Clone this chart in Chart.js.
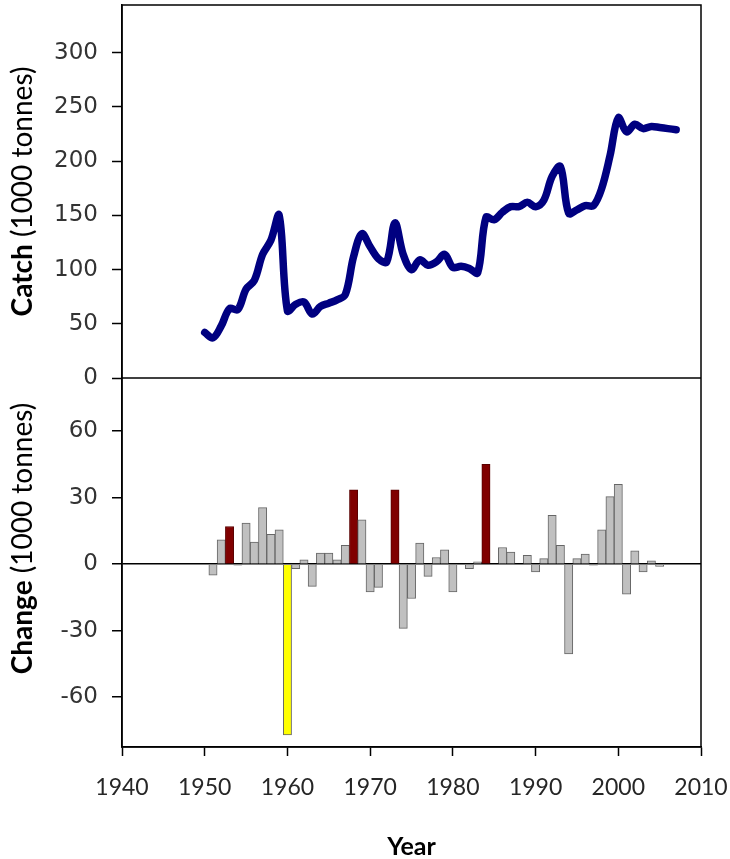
<!DOCTYPE html>
<html>
<head>
<meta charset="utf-8">
<title>Catch and annual change</title>
<script src="https://cdn.jsdelivr.net/npm/chart.js@4.4.0/dist/chart.umd.min.js"></script>
<style>
  html, body { margin: 0; padding: 0; background: #fff; }
  #wrap { position: relative; width: 730px; height: 859px; }
</style>
</head>
<body>
<div id="wrap"><canvas id="catch-chart" width="730" height="859"></canvas></div>
<script>
// Catch (1000 tonnes) per year
const years = [1950, 1951, 1952, 1953, 1954, 1955, 1956, 1957, 1958, 1959,
  1960, 1961, 1962, 1963, 1964, 1965, 1966, 1967, 1968, 1969,
  1970, 1971, 1972, 1973, 1974, 1975, 1976, 1977, 1978, 1979,
  1980, 1981, 1982, 1983, 1984, 1985, 1986, 1987, 1988, 1989,
  1990, 1991, 1992, 1993, 1994, 1995, 1996, 1997, 1998, 1999,
  2000, 2001, 2002, 2003, 2004, 2005, 2006, 2007];
const catchValues = [42, 37, 48, 64, 63, 82, 90, 114, 127, 150,
  62, 68, 70, 59, 66, 69, 72, 77, 112, 133,
  121, 110, 107, 143, 114, 100, 109, 104, 107, 114,
  102, 103, 101, 97, 148, 146, 153, 158, 158, 162,
  158, 164, 186, 195, 152, 155, 159, 159, 175, 205,
  240, 227, 234, 230, 232, 231, 230, 229];

// Year-to-year change (1000 tonnes), bottom panel
const changeYears = [1951, 1952, 1953, 1954, 1955, 1956, 1957, 1958, 1959,
  1960, 1961, 1962, 1963, 1964, 1965, 1966, 1967, 1968, 1969,
  1970, 1971, 1972, 1973, 1974, 1975, 1976, 1977, 1978, 1979,
  1980, 1981, 1982, 1983, 1984, 1985, 1986, 1987, 1988, 1989,
  1990, 1991, 1992, 1993, 1994, 1995, 1996, 1997, 1998, 1999,
  2000, 2001, 2002, 2003, 2004, 2005];
const changeValues = [-5, 11, 17, -0.5, 18.5, 10, 25.5, 13.5, 15.5,
  -77, -2, 2, -10, 5, 5, 2, 8.5, 33.5, 20,
  -12.5, -10.5, null, 33.5, -29, -15.5, 9.5, -5.5, 3, 6.5,
  -12.5, null, -2, 1, 45, null, 7.5, 5.5, null, 4,
  -3.5, 2.5, 22, 8.5, -40.5, 2.5, 4.5, -0.5, 15.5, 30.5,
  36, -13.5, 6, -3.5, 1.5, -1];
const bigRiseYears = [1953, 1968, 1973, 1984];
const collapseYears = [1960];

// tick labels
const yearTicks = [1940, 1950, 1960, 1970, 1980, 1990, 2000, 2010];
const catchTicks = [0, 50, 100, 150, 200, 250, 300];
const changeTicks = [-60, -30, 0, 30, 60];

function barColour(year) {
  if (bigRiseYears.includes(year)) return '#800000';
  if (collapseYears.includes(year)) return '#ffff00';
  return '#c0c0c0';
}
function barEdge(year) {
  if (bigRiseYears.includes(year)) return '#5a0000';
  return '#666666';
}

const tickFont = { family: "'DejaVu Sans', Verdana, sans-serif", size: 23 };

// frame round the plot area plus the line between the two panels
const framePlugin = {
  id: 'panelFrame',
  afterDraw(chart) {
    const { ctx, chartArea: a, scales } = chart;
    const mid = scales.catchAxis.getPixelForValue(0);
    ctx.save();
    ctx.strokeStyle = '#000';
    ctx.lineWidth = 1.5;
    ctx.strokeRect(a.left, a.top, a.right - a.left, a.bottom - a.top);
    ctx.beginPath();
    ctx.moveTo(a.left, mid);
    ctx.lineTo(a.right, mid);
    ctx.stroke();
    ctx.restore();
  }
};

// y titles: bold word followed by plain units
function drawTitle(ctx, boldPart, rest, cx, cy) {
  const size = 28;
  ctx.save();
  ctx.translate(cx, cy);
  ctx.rotate(-Math.PI / 2);
  ctx.textBaseline = 'middle';
  ctx.textAlign = 'left';
  ctx.fillStyle = '#000';
  ctx.font = 'bold ' + size + 'px Lato';
  const w1 = ctx.measureText(boldPart).width;
  ctx.font = size + 'px Lato';
  const w2 = ctx.measureText(rest).width;
  const x0 = -(w1 + w2) / 2;
  ctx.font = 'bold ' + size + 'px Lato';
  ctx.fillText(boldPart, x0, 0);
  ctx.font = size + 'px Lato';
  ctx.fillText(rest, x0 + w1, 0);
  ctx.restore();
}

const titlePlugin = {
  id: 'yTitles',
  afterDraw(chart) {
    const { ctx, scales } = chart;
    const c = scales.catchAxis, d = scales.changeAxis;
    drawTitle(ctx, 'Catch', ' (1000 tonnes)', 23, (c.top + c.bottom) / 2);
    drawTitle(ctx, 'Change', ' (1000 tonnes)', 23, (d.top + d.bottom) / 2 - 24);
  }
};

function fixedWidth(w) {
  return function (axis) {
    axis.width = w;
    axis.paddingTop = 0;
    axis.paddingBottom = 0;
  };
}

const ctx = document.getElementById('catch-chart').getContext('2d');
const catchChart = new Chart(ctx, {
  data: {
    datasets: [{
      type: 'bar',
      label: 'Change',
      data: changeYears.map((y, i) => ({ x: y, y: changeValues[i] })),
      xAxisID: 'x',
      yAxisID: 'changeAxis',
      backgroundColor: changeYears.map(barColour),
      borderColor: changeYears.map(barEdge),
      borderWidth: 1,
      barPercentage: 1,
      categoryPercentage: 1
    }, {
      type: 'line',
      label: 'Catch',
      data: years.map((y, i) => ({ x: y, y: catchValues[i] })),
      xAxisID: 'x',
      yAxisID: 'catchAxis',
      borderColor: '#000080',
      borderWidth: 7.5,
      pointRadius: 0,
      tension: 0.35,
      borderCapStyle: 'round',
      borderJoinStyle: 'round',
      fill: false
    }]
  },
  options: {
    responsive: false,
    animation: false,
    devicePixelRatio: 1,
    layout: { padding: { top: 5, right: 29, left: 0, bottom: 0 } },
    plugins: {
      legend: { display: false },
      tooltip: { enabled: false }
    },
    scales: {
      x: {
        type: 'linear',
        position: 'bottom',
        min: 1940,
        max: 2010,
        bounds: 'data',
        offset: false,
        afterBuildTicks: axis => { axis.ticks = yearTicks.map(v => ({ value: v })); },
        afterFit: axis => { axis.height = 112; axis.paddingLeft = 0; axis.paddingRight = 0; },
        grid: { offset: false, color: 'transparent', tickColor: '#000', tickLength: 9, tickWidth: 1.5 },
        border: { display: true, color: '#000', width: 1.5 },
        ticks: {
          color: '#262626',
          font: { family: 'Lato', size: 23 },
          padding: 18,
          maxRotation: 0,
          callback: v => String(v)
        },
        title: {
          display: true,
          text: 'Year',
          color: '#000',
          font: { family: 'Lato', size: 25, weight: 'bold', lineHeight: 1 },
          padding: { top: 0, bottom: 0 }
        }
      },
      // defined before the catch axis so that it is stacked underneath it
      changeAxis: {
        type: 'linear',
        position: 'left',
        stack: 'panels',
        stackWeight: 369,
        min: -82.5,
        max: 84,
        bounds: 'data',
        afterBuildTicks: axis => { axis.ticks = changeTicks.map(v => ({ value: v })); },
        afterFit: fixedWidth(122),
        grid: {
          color: c => (c.tick && c.tick.value === 0 ? '#000' : 'transparent'),
          lineWidth: 1.5,
          tickColor: '#000',
          tickLength: 10,
          tickWidth: 1.5
        },
        border: { display: true, color: '#000', width: 1.5 },
        ticks: { color: '#333', font: tickFont, padding: 14 }
      },
      catchAxis: {
        type: 'linear',
        position: 'left',
        stack: 'panels',
        stackWeight: 373,
        min: 0,
        max: 344,
        bounds: 'data',
        afterBuildTicks: axis => { axis.ticks = catchTicks.map(v => ({ value: v })); },
        afterFit: fixedWidth(122),
        grid: { color: 'transparent', tickColor: '#000', tickLength: 10, tickWidth: 1.5 },
        border: { display: true, color: '#000', width: 1.5 },
        ticks: { color: '#333', font: tickFont, padding: 14 }
      }
    }
  },
  plugins: [framePlugin, titlePlugin]
});
</script>
</body>
</html>
